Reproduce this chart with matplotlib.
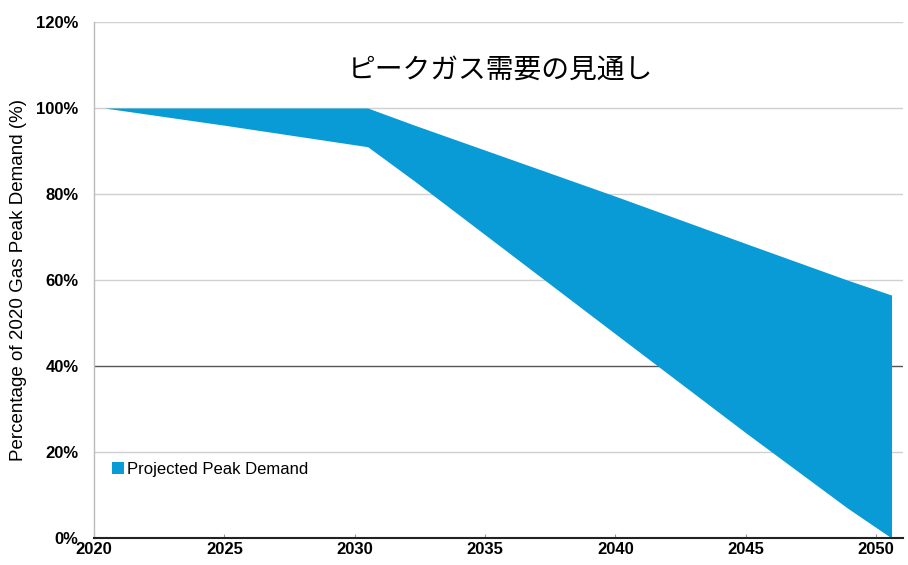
import matplotlib
matplotlib.use("Agg")
import matplotlib.pyplot as plt
import matplotlib.transforms as mtransforms
from matplotlib.patches import Patch

# Data (fractional years as positioned on the chart)
years = [2020.4, 2025.0, 2030.5, 2032.3, 2040.0, 2045.0, 2048.9, 2050.6]
upper = [100.0, 100.0, 100.0, 96.0, 79.5, 68.5, 60.0, 56.5]
lower = [100.0, 96.0, 91.0, 83.0, 47.5, 24.5, 7.0, 0.0]

xticks = [2020, 2025, 2030, 2035, 2040, 2045, 2050]
yticks = [0, 20, 40, 60, 80, 100, 120]
title = "ピークガス需要の見通し"
ylabel = "Percentage of 2020 Gas Peak Demand (%)"
legend_label = "Projected Peak Demand"

fill_color = "#089BD5"

fig = plt.figure(figsize=(9.08, 5.65), dpi=100)
ax = fig.add_axes([94/908, 27/565, 809/908, 516/565])

ax.fill_between(years, lower, upper, color=fill_color, linewidth=0)

ax.set_xlim(2020, 2051.04)
ax.set_ylim(0, 120)

for y in yticks[1:]:
    if y == 40:
        ax.axhline(y, color="#555555", linewidth=1.0, zorder=0)
    else:
        ax.axhline(y, color="#d0d0d0", linewidth=1.0, zorder=0)

ax.set_xticks(xticks)
ax.set_xticklabels([str(x) for x in xticks], fontweight="bold", fontsize=12,
                   family="Liberation Sans")
ax.set_yticks(yticks)
ax.set_yticklabels([f"{y}%" for y in yticks], fontweight="bold", fontsize=12,
                   family="Liberation Sans")
ax.tick_params(axis="y", length=0, pad=11)
ax.tick_params(axis="x", length=3, width=0.8, color="#999999", direction="in", pad=3)

for s in ["top", "right"]:
    ax.spines[s].set_visible(False)
ax.spines["left"].set_color("#bbbbbb")
ax.spines["left"].set_linewidth(1.0)
ax.spines["bottom"].set_color("#222222")
ax.spines["bottom"].set_linewidth(1.5)

ax.set_ylabel(ylabel, fontsize=13.5, family="Liberation Sans", labelpad=7)

t = ax.text(0.502, 109, title, fontsize=20, family=["Noto Sans CJK JP", "DejaVu Sans"],
            ha="center", va="center")
t.set_transform(mtransforms.blended_transform_factory(ax.transAxes, ax.transData))

leg = ax.legend(handles=[Patch(facecolor=fill_color, edgecolor="none", label=legend_label)],
                loc="lower left", bbox_to_anchor=(0.004, 0.09), frameon=False,
                handlelength=0.7, handleheight=0.7, handletextpad=0.2,
                prop={"family": "Liberation Sans", "size": 12})

fig.savefig("out.png", dpi=100)
